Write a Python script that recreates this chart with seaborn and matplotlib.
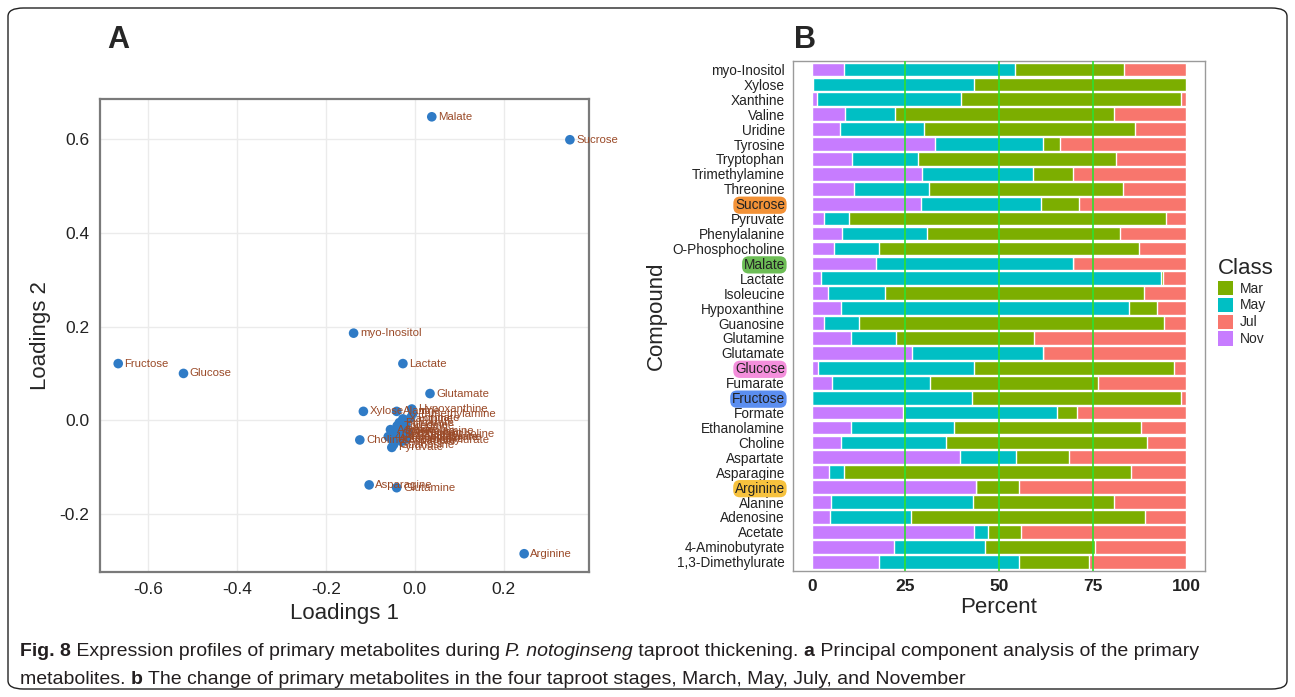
import numpy as np
import pandas as pd
import seaborn as sns
import matplotlib.pyplot as plt
from matplotlib.patches import FancyBboxPatch, Patch

# --- Panel A: PCA loadings ---
pca_names = [
    "Malate", "Sucrose", "myo-Inositol", "Fructose", "Glucose", "Lactate",
    "Glutamate", "Xylose", "Choline", "Asparagine", "Glutamine", "Arginine",
    "Xanthine", "Valine", "Uridine", "Tyrosine", "Tryptophan", "Trimethylamine",
    "Threonine", "Pyruvate", "Phenylalanine", "O-Phosphocholine", "Isoleucine",
    "Hypoxanthine", "Guanosine", "Fumarate", "Formate", "Ethanolamine",
    "Aspartate", "Alanine", "Adenosine", "Acetate", "4-Aminobutyrate",
    "1,3-Dimethylurate",
]
loadings_1 = [
    0.038, 0.349, -0.138, -0.668, -0.521, -0.027,
    0.034, -0.116, -0.124, -0.103, -0.041, 0.246,
    -0.027, -0.030, -0.020, -0.015, -0.035, -0.005,
    -0.040, -0.052, -0.025, -0.045, -0.020,
    -0.007, -0.048, -0.035, -0.010, -0.038,
    -0.030, -0.041, -0.050, -0.055, -0.060,
    -0.050,
]
loadings_2 = [
    0.648, 0.599, 0.186, 0.121, 0.100, 0.121,
    0.057, 0.019, -0.042, -0.138, -0.144, -0.285,
    0.003, -0.020, -0.010, -0.025, -0.028, 0.014,
    -0.012, -0.058, -0.035, -0.030, -0.040,
    0.024, -0.052, -0.005, 0.005, -0.022,
    -0.045, 0.019, -0.040, -0.020, -0.035,
    -0.043,
]

# --- Panel B: percent per sampling month ---
compounds = [
    "myo-Inositol", "Xylose", "Xanthine", "Valine", "Uridine", "Tyrosine",
    "Tryptophan", "Trimethylamine", "Threonine", "Sucrose", "Pyruvate",
    "Phenylalanine", "O-Phosphocholine", "Malate", "Lactate", "Isoleucine",
    "Hypoxanthine", "Guanosine", "Glutamine", "Glutamate", "Glucose",
    "Fumarate", "Fructose", "Formate", "Ethanolamine", "Choline", "Aspartate",
    "Asparagine", "Arginine", "Alanine", "Adenosine", "Acetate",
    "4-Aminobutyrate", "1,3-Dimethylurate",
]
pct_nov = [8.5, 0.2, 1.3, 8.8, 7.4, 32.9, 10.8, 29.3, 11.1, 29.2, 3.3, 8.0, 5.9,
           17.2, 2.4, 4.4, 7.8, 3.2, 10.4, 26.7, 1.7, 5.4, 0.0, 24.4, 10.5, 7.8,
           39.5, 4.5, 43.9, 5.1, 4.7, 43.3, 22.0, 18.0]
pct_may = [45.9, 43.0, 38.5, 13.4, 22.5, 28.9, 17.5, 29.9, 20.1, 32.1, 6.7, 22.7,
           12.0, 52.7, 91.0, 15.1, 77.0, 9.5, 12.0, 35.0, 41.5, 26.2, 42.8, 41.2,
           27.5, 28.0, 15.1, 4.1, 0.0, 37.9, 21.9, 3.7, 24.3, 37.4]
pct_mar = [29.0, 56.8, 58.9, 58.5, 56.5, 4.5, 53.0, 10.6, 52.0, 10.1, 84.7, 51.6,
           69.5, 0.0, 0.4, 69.2, 7.5, 81.5, 36.9, 0.0, 53.5, 44.9, 55.9, 5.3,
           50.1, 53.8, 14.0, 76.7, 11.5, 37.7, 62.5, 8.9, 29.5, 18.7]
pct_jul = [16.6, 0.0, 1.3, 19.3, 13.6, 33.7, 18.7, 30.2, 16.8, 28.6, 5.3, 17.7,
           12.6, 30.1, 6.2, 11.3, 7.7, 5.8, 40.7, 38.3, 3.3, 23.5, 1.3, 29.1,
           11.9, 10.4, 31.4, 14.7, 44.6, 19.3, 10.9, 44.1, 24.2, 25.9]

highlight = {
    "Sucrose": "#F39237", "Malate": "#6DBE56", "Glucose": "#F48FDC",
    "Fructose": "#5B8EF0", "Arginine": "#F7C23E",
}
class_colors = {"Mar": "#7CAE00", "May": "#00BFC4", "Jul": "#F8766D", "Nov": "#C77CFF"}

sns.set_style("white")
plt.rcParams["font.family"] = ["Liberation Sans", "DejaVu Sans"]
plt.rcParams["axes.unicode_minus"] = False

W, H = 1295, 697
fig = plt.figure(figsize=(W / 100, H / 100), dpi=100)

# ---------- Panel A ----------
ax_a = fig.add_axes([100 / W, 1 - 572 / H, 489 / W, 473 / H])
pca_df = pd.DataFrame({"name": pca_names, "PC1": loadings_1, "PC2": loadings_2})
sns.scatterplot(data=pca_df, x="PC1", y="PC2", color="#2F7BC6", s=48,
                edgecolor="none", ax=ax_a, zorder=3)
for _, r in pca_df.iterrows():
    ax_a.annotate(r["name"], (r["PC1"], r["PC2"]), xytext=(4.5, 0),
                  textcoords="offset points", va="center", ha="left",
                  fontsize=8.2, color="#9A4A28", zorder=4)
ax_a.set_xlim(-0.709, 0.392)
ax_a.set_ylim(-0.324, 0.686)
ax_a.set_xticks([-0.6, -0.4, -0.2, 0.0, 0.2])
ax_a.set_yticks([-0.2, 0.0, 0.2, 0.4, 0.6])
ax_a.grid(True, color="#EBEBEB", linewidth=1.0)
ax_a.set_axisbelow(True)
for sp in ax_a.spines.values():
    sp.set_color("#7A7A7A")
    sp.set_linewidth(1.6)
ax_a.tick_params(axis="both", length=4, width=1, color="#7A7A7A",
                 labelsize=12.5, labelcolor="#222222", direction="out")
ax_a.set_xlabel("Loadings 1", fontsize=16, labelpad=4)
ax_a.set_ylabel("Loadings 2", fontsize=16, labelpad=6)
fig.text(118 / W, 1 - 40 / H, "A", fontsize=22, fontweight="bold", va="center", ha="center")

# ---------- Panel B ----------
ax_b = fig.add_axes([793.3 / W, 1 - 570.7 / H, 411.4 / W, 510.2 / H])
bar_df = pd.DataFrame({"Compound": compounds, "Nov": pct_nov, "May": pct_may,
                       "Mar": pct_mar, "Jul": pct_jul})
# stacked left-to-right: Nov, May, Mar, Jul -> draw cumulative totals back to front
cum = bar_df[["Nov", "May", "Mar", "Jul"]].cumsum(axis=1)
for cls in ["Jul", "Mar", "May", "Nov"]:
    sns.barplot(x=cum[cls].values, y=bar_df["Compound"], orient="h",
                color=class_colors[cls], saturation=1, width=0.92,
                order=compounds, ax=ax_b, zorder=2)
for v in [25, 50, 75]:
    ax_b.axvline(v, color="#2FE02F", linewidth=1.2, zorder=5)
ax_b.set_xlim(-5, 105)
ax_b.set_ylim(len(compounds) - 0.4, -0.6)
ax_b.set_xticks([0, 25, 50, 75, 100])
ax_b.set_xticklabels(["0", "25", "50", "75", "100"], fontweight="bold")
for sp in ax_b.spines.values():
    sp.set_color("#9A9A9A")
    sp.set_linewidth(1.0)
ax_b.tick_params(axis="x", length=3, width=0.8, color="#9A9A9A", labelsize=12.5,
                 labelcolor="#222222", pad=3)
ax_b.tick_params(axis="y", length=3, width=0.8, color="#9A9A9A", labelsize=9.8,
                 labelcolor="#222222", pad=3)
for lab in ax_b.get_yticklabels():
    if lab.get_text() in highlight:
        lab.set_bbox(dict(boxstyle="round,pad=0.12,rounding_size=0.5",
                          fc=highlight[lab.get_text()], ec="none"))
ax_b.set_xlabel("Percent", fontsize=16, labelpad=2)
ax_b.set_ylabel("Compound", fontsize=16, labelpad=4)
fig.text(805 / W, 1 - 40 / H, "B", fontsize=22, fontweight="bold", va="center", ha="center")

handles = [Patch(facecolor=class_colors[c], edgecolor="none") for c in ["Mar", "May", "Jul", "Nov"]]
leg = fig.legend(handles, ["Mar", "May", "Jul", "Nov"], title="Class",
                 loc="upper left", bbox_to_anchor=(1208 / W, 1 - 248 / H),
                 frameon=False, fontsize=10, title_fontsize=16,
                 handlelength=1.1, handleheight=1.2, handletextpad=0.5,
                 labelspacing=0.15, borderpad=0.2)
leg._legend_box.align = "left"

# ---------- border ----------
fig.patches.append(FancyBboxPatch((8 / W, 8 / H), 1279 / W, 681 / H,
                                  boxstyle="round,pad=0,rounding_size=0.012",
                                  transform=fig.transFigure, fc="none",
                                  ec="#222222", lw=1.0, figure=fig))

# ---------- caption ----------
cap_font = ["Liberation Sans Narrow", "Liberation Sans"]
cap_size = 14.0
lines = [
    [("Fig. 8", "bold", "normal"),
     (" Expression profiles of primary metabolites during ", "normal", "normal"),
     ("P. notoginseng", "normal", "italic"),
     (" taproot thickening. ", "normal", "normal"),
     ("a", "bold", "normal"),
     (" Principal component analysis of the primary", "normal", "normal")],
    [("metabolites. ", "normal", "normal"),
     ("b", "bold", "normal"),
     (" The change of primary metabolites in the four taproot stages, March, May, July, and November",
      "normal", "normal")],
]
fig.canvas.draw()
renderer = fig.canvas.get_renderer()
for y_px, parts in zip([652, 680], lines):
    x_px = 20
    for txt, weight, style in parts:
        t = fig.text(x_px / W, 1 - y_px / H, txt, fontsize=cap_size, fontweight=weight,
                     fontstyle=style, family=cap_font, va="center", ha="left",
                     color="#231F20")
        x_px = t.get_window_extent(renderer).x1

fig.savefig("out.png", dpi=100)
